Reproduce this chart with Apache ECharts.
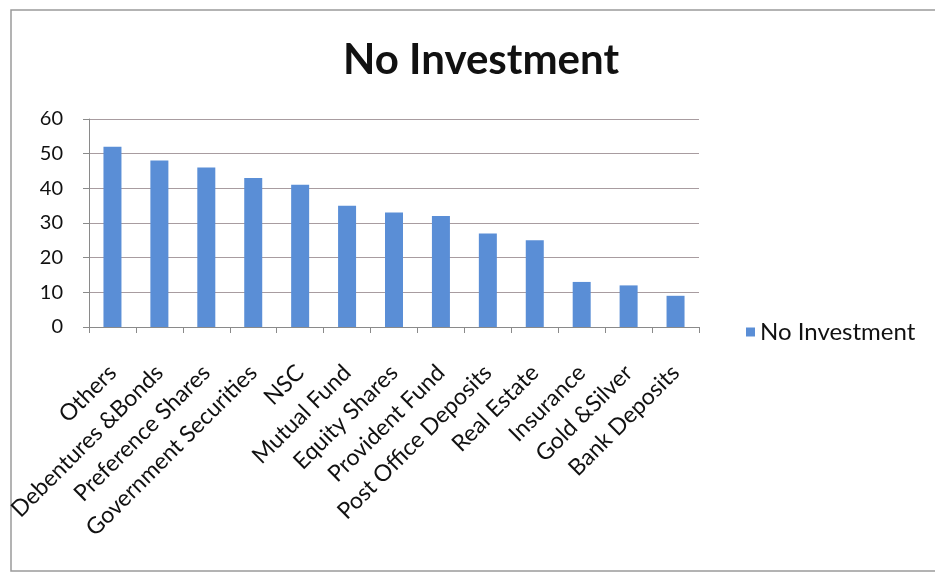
<!DOCTYPE html>
<html>
<head>
<meta charset="utf-8">
<title>No Investment</title>
<script src="https://cdn.jsdelivr.net/npm/echarts@6/dist/echarts.min.js"></script>
<style>
  html, body { margin: 0; padding: 0; background: #fff; }
  #chart { width: 935px; height: 572px; }
</style>
</head>
<body>
<div id="chart"></div>
<script>
// Investment avenues and the share of respondents with no investment in each
const categories = [
  'Others', 'Debentures &Bonds', 'Preference Shares', 'Government Securities',
  'NSC', 'Mutual Fund', 'Equity Shares', 'Provident Fund',
  'Post Office Deposits', 'Real Estate', 'Insurance', 'Gold &Silver', 'Bank Deposits'
];
const noInvestment = [52, 48, 46, 43, 41, 35, 33, 32, 27, 25, 13, 12, 9];
const seriesName = 'No Investment';
const yTicks = { min: 0, max: 60, interval: 10 };

const FONT = 'Lato, "Open Sans", sans-serif';
const chart = echarts.init(document.getElementById('chart'));

chart.setOption({
  animation: false,
  backgroundColor: '#ffffff',
  title: {
    text: 'No Investment',
    left: 476,
    textAlign: 'center',
    top: 34,
    textStyle: { fontFamily: FONT, fontSize: 42, fontWeight: 'bold', color: '#111' }
  },
  graphic: [{
    type: 'rect',
    shape: { x: 11, y: 10, width: 960, height: 561 },
    style: { fill: 'none', stroke: '#9a9a9a', lineWidth: 1.5 },
    silent: true
  }],
  legend: {
    data: [seriesName],
    left: 741,
    top: 315,
    itemWidth: 9,
    itemHeight: 9,
    itemGap: 10,
    icon: 'rect',
    textStyle: { fontFamily: FONT, fontSize: 24, color: '#111' }
  },
  grid: { left: 89, right: 236, top: 119, bottom: 245, containLabel: false },
  xAxis: {
    type: 'category',
    data: categories,
    boundaryGap: true,
    axisLine: { show: true, lineStyle: { color: '#8a8a8a', width: 1 } },
    axisTick: { show: true, alignWithLabel: false, length: 6, lineStyle: { color: '#8a8a8a' } },
    axisLabel: {
      interval: 0,
      rotate: 45,
      margin: 42,
      fontFamily: FONT,
      fontSize: 23,
      color: '#111'
    }
  },
  yAxis: {
    type: 'value',
    min: yTicks.min,
    max: yTicks.max,
    interval: yTicks.interval,
    axisLine: { show: true, lineStyle: { color: '#8a8a8a', width: 1 } },
    axisTick: { show: true, length: 6, lineStyle: { color: '#8a8a8a' } },
    axisLabel: { fontFamily: FONT, fontSize: 20, color: '#111', margin: 26 },
    splitLine: { show: true, lineStyle: { color: '#a89ca0', width: 1 } }
  },
  series: [{
    name: seriesName,
    type: 'bar',
    data: noInvestment,
    barWidth: 18,
    itemStyle: { color: '#5a8ed6' }
  }]
});
</script>
</body>
</html>
